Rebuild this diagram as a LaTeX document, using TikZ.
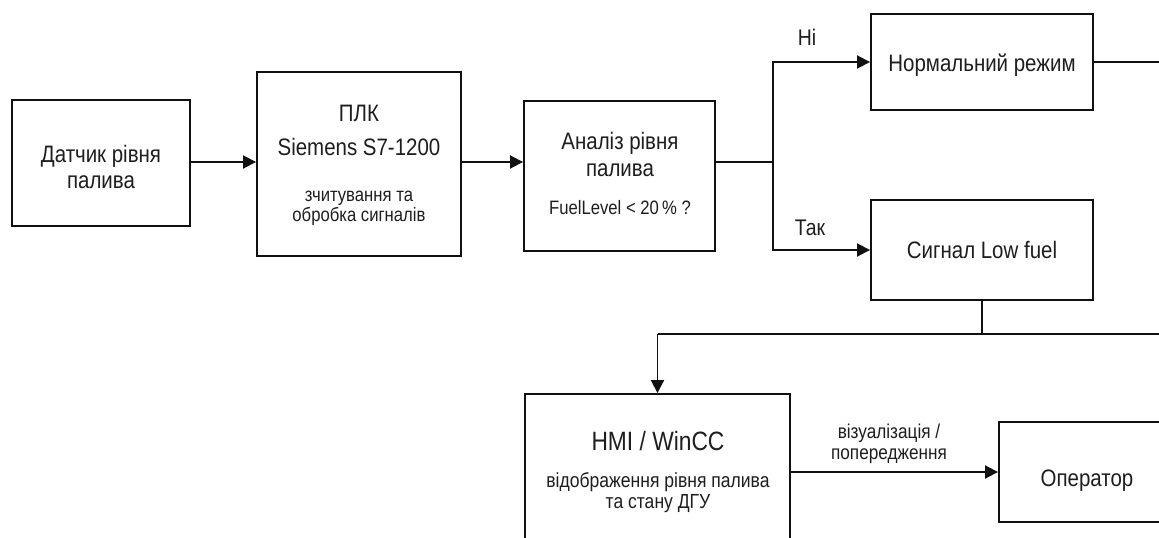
\documentclass[tikz,border=0pt]{standalone}
\usepackage{fontspec}
\setmainfont{Liberation Sans}[FakeStretch=0.86]
\usetikzlibrary{arrows.meta}
\definecolor{txt}{HTML}{1E1E1E}
\definecolor{ln}{HTML}{111111}
\begin{document}
\begin{tikzpicture}[x=1pt,y=-1pt,
  box/.style={draw=ln, line width=1.9pt, inner sep=0pt},
  lbl/.style={anchor=base, inner sep=0pt, text=txt},
  conn/.style={draw=ln, line width=1.9pt},
  arr/.style={conn, -{Triangle[length=13pt,width=13pt]}},
  fm/.style={font=\fontsize{23.8}{26}\selectfont},
  fc/.style={font=\fontsize{19.4}{20}\selectfont},
  fs/.style={font=\fontsize{19.4}{21}\selectfont},
  fh/.style={font=\fontsize{26.5}{29}\selectfont},
  fhs/.style={font=\fontsize{20.4}{21}\selectfont},
  fe/.style={font=\fontsize{20}{21}\selectfont},
  fy/.style={font=\fontsize{22.6}{24}\selectfont}]
\useasboundingbox (0,0) rectangle (1159,538);
\fill[white] (0,0) rectangle (1159,538);
\clip (0,0) rectangle (1159,538);

% boxes
\node[box, minimum width=178pt, minimum height=126pt] (b1) at (101,163) {};
\node[box, minimum width=204pt, minimum height=184pt] (b2) at (359,164) {};
\node[box, minimum width=191pt, minimum height=150pt] (b3) at (619.5,176) {};
\node[box, minimum width=222pt, minimum height=96pt] (b4) at (982,62) {};
\node[box, minimum width=222pt, minimum height=100pt] (b5) at (982,250) {};
\node[box, minimum width=265pt, minimum height=226pt] (b6) at (657.5,507) {};
\node[box, minimum width=176pt, minimum height=100pt] (b7) at (1087,472) {};

% helper coordinates
\coordinate (j) at (773,162);
\coordinate (k) at (982,334);
\coordinate (R) at (1175,0);

% texts
\node[lbl, fm] (t1a) at (101,162) {Датчик рівня};
\node[lbl, fm] (t1b) at (101,188) {палива};
\node[lbl, fm] (t2a) at (359,121) {ПЛК};
\node[lbl, fm] (t2b) at (359,155) {Siemens S7-1200};
\node[lbl, fc] (t2c) at (359,201) {зчитування та};
\node[lbl, fc] (t2d) at (359,221) {обробка сигналів};
\node[lbl, fm] (t3a) at (620,149) {Аналіз рівня};
\node[lbl, fm] (t3b) at (620,176) {палива};
\node[lbl, fs] (t3c) at (620,214) {FuelLevel < 20\,\% ?};
\node[lbl, fm] (t4) at (982,71) {Нормальний режим};
\node[lbl, fm] (t5) at (982,258) {Сигнал Low fuel};
\node[lbl, fh] (t6a) at (658,450) {HMI / WinCC};
\node[lbl, fhs] (t6b) at (658,487) {відображення рівня палива};
\node[lbl, fhs] (t6c) at (658,508) {та стану ДГУ};
\node[lbl, fm] (t7) at (1087,486) {Оператор};
\node[lbl, fy] (ln) at (807,45) {Ні};
\node[lbl, fy] (ly) at (810,235) {Так};
\node[lbl, fe] (le1) at (889,438.5) {візуалізація /};
\node[lbl, fe] (le2) at (889,459) {попередження};

% connectors
\draw[arr] (b1.east |- j) -- (b2.west |- j);
\draw[arr] (b2.east |- j) -- (b3.west |- j);
\draw[conn] (j -| b3.east) -- (j);
\draw[arr] (j) |- (b4.west);
\draw[arr] (j) |- (b5.west);
\draw[conn] (b4.east) -- (b4.east -| R);
\draw[conn] (b5.south) -- (k);
\draw[conn] (k -| b6.north) -- (k -| R);
\draw[arr] (k -| b6.north) -- (b6.north);
\draw[arr] (b6.east |- b7.west) -- (b7.west);
\end{tikzpicture}
\end{document}
